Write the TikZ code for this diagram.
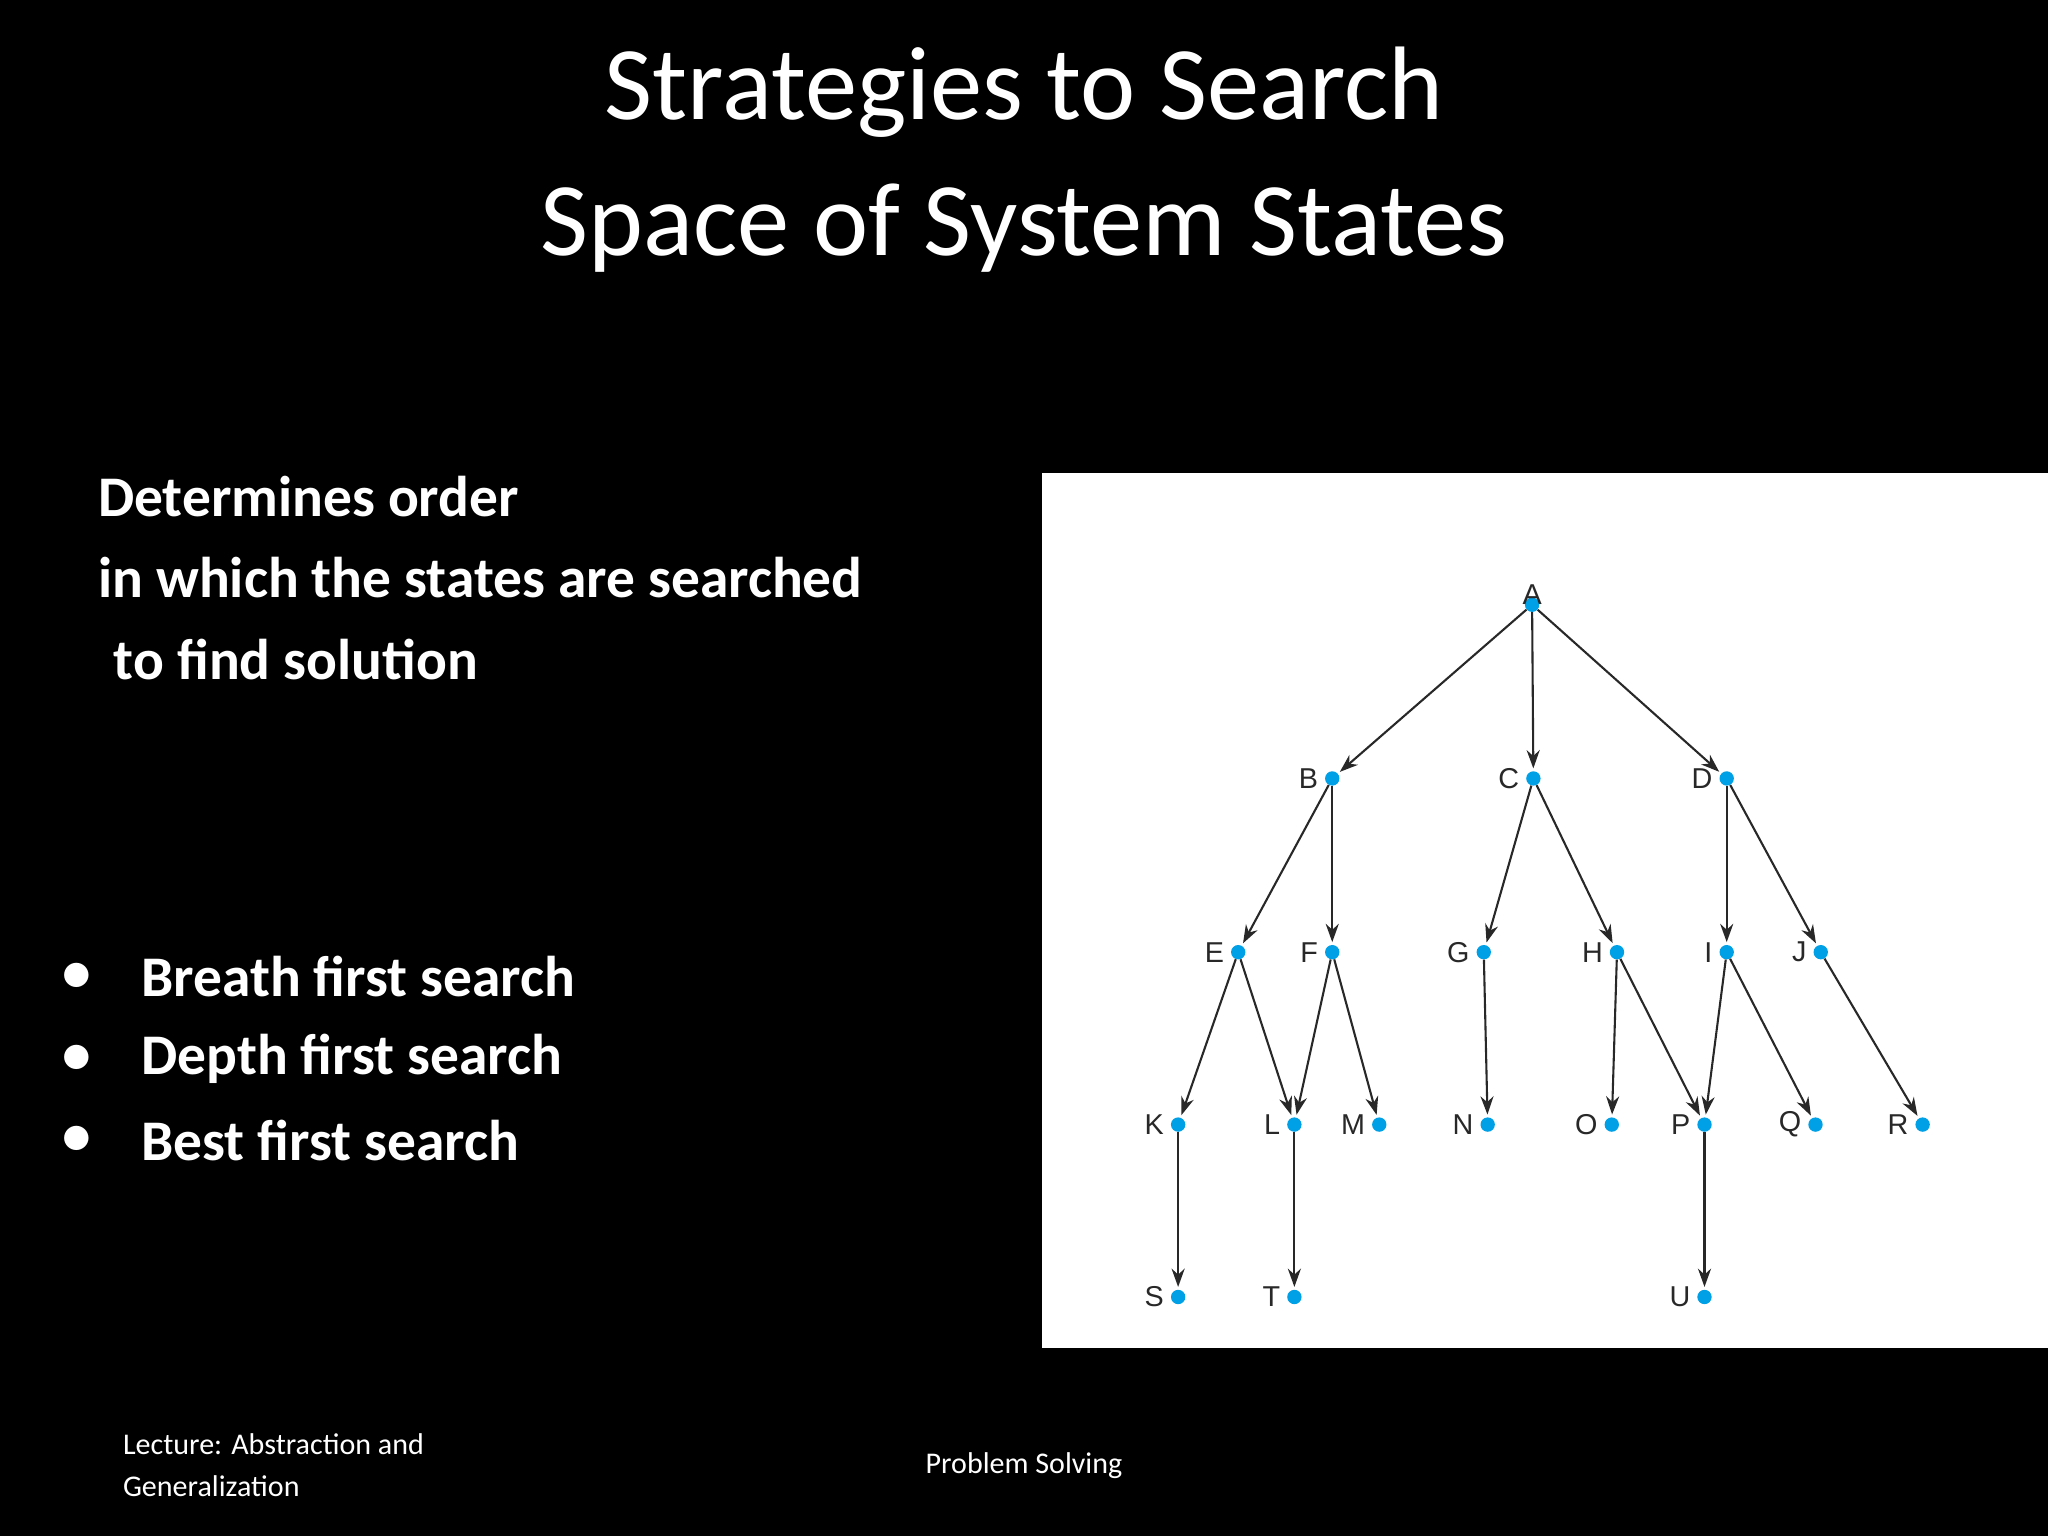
\documentclass[tikz,border=0pt]{standalone}
\usepackage{fontspec}
\setmainfont{Carlito}
\newfontfamily\lblfont{Liberation Sans}
\usetikzlibrary{arrows.meta}
\definecolor{dotc}{RGB}{0,160,230}
\definecolor{edgec}{RGB}{40,40,40}
\tikzset{
 st/.style={circle,fill=dotc,inner sep=0pt,minimum size=11pt},
 lab/.style={font=\lblfont\fontsize{22}{22}\selectfont,text=edgec,anchor=east,inner sep=2pt},
 edge/.style={draw=edgec,line width=1.6pt,-{Stealth[length=14pt,width=10pt]},shorten >=2pt},
 body/.style={font=\bfseries\fontsize{44}{48}\selectfont,text=white,anchor=west,inner sep=0pt},
 foot/.style={font=\fontsize{23}{26}\selectfont,text=white,anchor=west,inner sep=0pt}
}
\begin{document}
\begin{tikzpicture}[x=1pt,y=-1pt]
\fill[black] (0,0) rectangle (1568,1176);
\useasboundingbox (0,0) rectangle (1568,1176);
\node[font=\fontsize{80}{104}\selectfont,text=white,align=center] (title) at (784,122) {Strategies to Search\\Space of System States};
\node[body] (b1) at (75,380) {Determines order};
\node[body] (b2) at (75,442) {in which the states are searched};
\node[body] (b3) at (87,505) {to find solution};
\foreach \y/\t [count=\i] in {748/Breath first search,811/Depth first search,873/Best first search}{
 \node[body] (d\i) at (48,\y) {•};
 \node[body] (l\i) at (108,\y) {\t};
}
\node[foot] (f1) at (94,1106) {Lecture: Abstraction and};
\node[foot] (f2) at (94,1138) {Generalization};
\node[font=\fontsize{23}{26}\selectfont,text=white] (f3) at (784,1122) {Problem Solving};
\fill[white] (798,362) rectangle (1568,1032);
\foreach \n/\x/\y in {A/1173/463,B/1020/596,C/1174/596,D/1322/596,E/948/729,F/1020/729,G/1136/729,H/1238/729,I/1322/729,J/1394/729,K/902/861,L/991/861,M/1056/861,N/1139/861,O/1234/861,P/1305/861,Q/1390/861,R/1472/861,S/902/993,T/991/993,U/1305/993}{
 \node[st] (\n) at (\x,\y) {};
}
\node[lab,anchor=south] at ([yshift=-8pt]A.north) {A};
\foreach \n in {B,C,D,E,F,G,H,I,J,K,L,M,N,O,P,Q,R,S,T,U}{
 \node[lab] at ([xshift=-3pt]\n.west) {\n};
}
\foreach \a/\b in {A/B,A/C,A/D,B/E,B/F,C/G,C/H,D/I,D/J,E/K,E/L,F/L,F/M,G/N,H/O,H/P,I/P,I/Q,J/R,K/S,L/T,P/U}{
 \draw[edge] (\a) -- (\b);
}
\end{tikzpicture}
\end{document}
